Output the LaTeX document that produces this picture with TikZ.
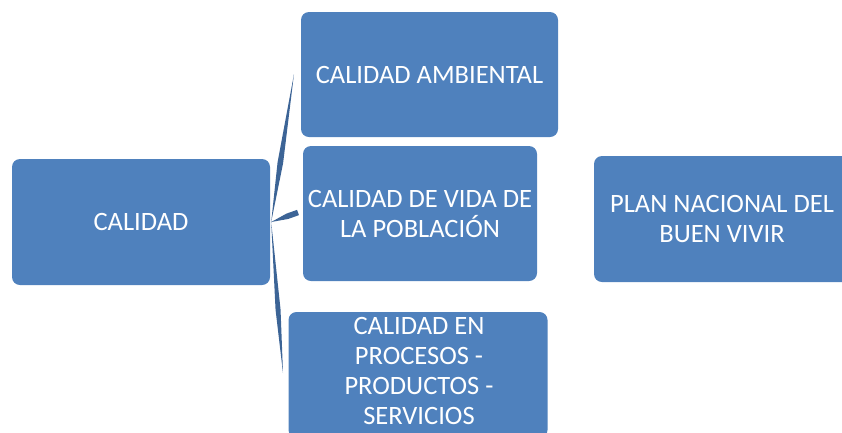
\documentclass[tikz,border=0pt]{standalone}
\usepackage{fontspec}
\setmainfont{Carlito}
\usetikzlibrary{calc}
\definecolor{boxblue}{RGB}{79,129,189}
\definecolor{linkblue}{RGB}{60,100,150}
\tikzset{
  boxtext/.style={inner sep=0pt, align=center, text=white, font=\fontsize{26.5}{30}\selectfont},
  box/.style={boxtext, fill=boxblue, rounded corners=8pt},
  wedge/.style={fill=linkblue, draw=none}
}
\begin{document}
\begin{tikzpicture}[x=1pt,y=-1pt]
\useasboundingbox (0,0) rectangle (842,432);
\clip (0,0) rectangle (842,432);
\node[box, minimum width=258pt, minimum height=126pt] (cal) at (141,222) {CALIDAD};
\node[box, minimum width=257pt, minimum height=125pt] (amb) at (429.5,74.5) {CALIDAD AMBIENTAL};
\node[box, minimum width=234pt, minimum height=135pt] (vida) at (420,213.5) {CALIDAD DE VIDA DE\\LA POBLACIÓN};
\node[box, minimum width=259pt, minimum height=126pt] (proc) at (418,375) {};
\node[boxtext] (proctxt) at ($(proc.center)+(1,-4)$) {CALIDAD EN\\PROCESOS -\\PRODUCTOS -\\SERVICIOS};
\node[box, minimum width=256pt, minimum height=126pt] (plan) at (722,219) {PLAN NACIONAL DEL\\BUEN VIVIR};
% connector bracket
\coordinate (J) at ($(cal.east)+(1,0)$);
\coordinate (Et) at (294,74);
\coordinate (Em) at (298,212.5);
\coordinate (Eb) at (283,373);
\coordinate (Wt) at ($(J)!0.4!(Et)$);
\coordinate (Wb) at ($(J)!0.58!(Eb)$);
\coordinate (Wm) at ($(J)!0.6!(Em)$);
\fill[wedge] (J) -- ($(Wt)!2.8pt!90:(Et)$) -- (Et) -- ($(Wt)!2.8pt!-90:(Et)$) -- cycle;
\fill[wedge] (J) -- ($(Wb)!2.5pt!90:(Eb)$) -- (Eb) -- ($(Wb)!2.5pt!-90:(Eb)$) -- cycle;
\fill[wedge] (J) -- ($(Wm)!2.8pt!90:(Em)$) -- ($(Em)!2.8pt!-90:(J)$) -- ($(Em)!2.8pt!90:(J)$) -- ($(Wm)!2.8pt!-90:(Em)$) -- cycle;
\end{tikzpicture}
\end{document}
